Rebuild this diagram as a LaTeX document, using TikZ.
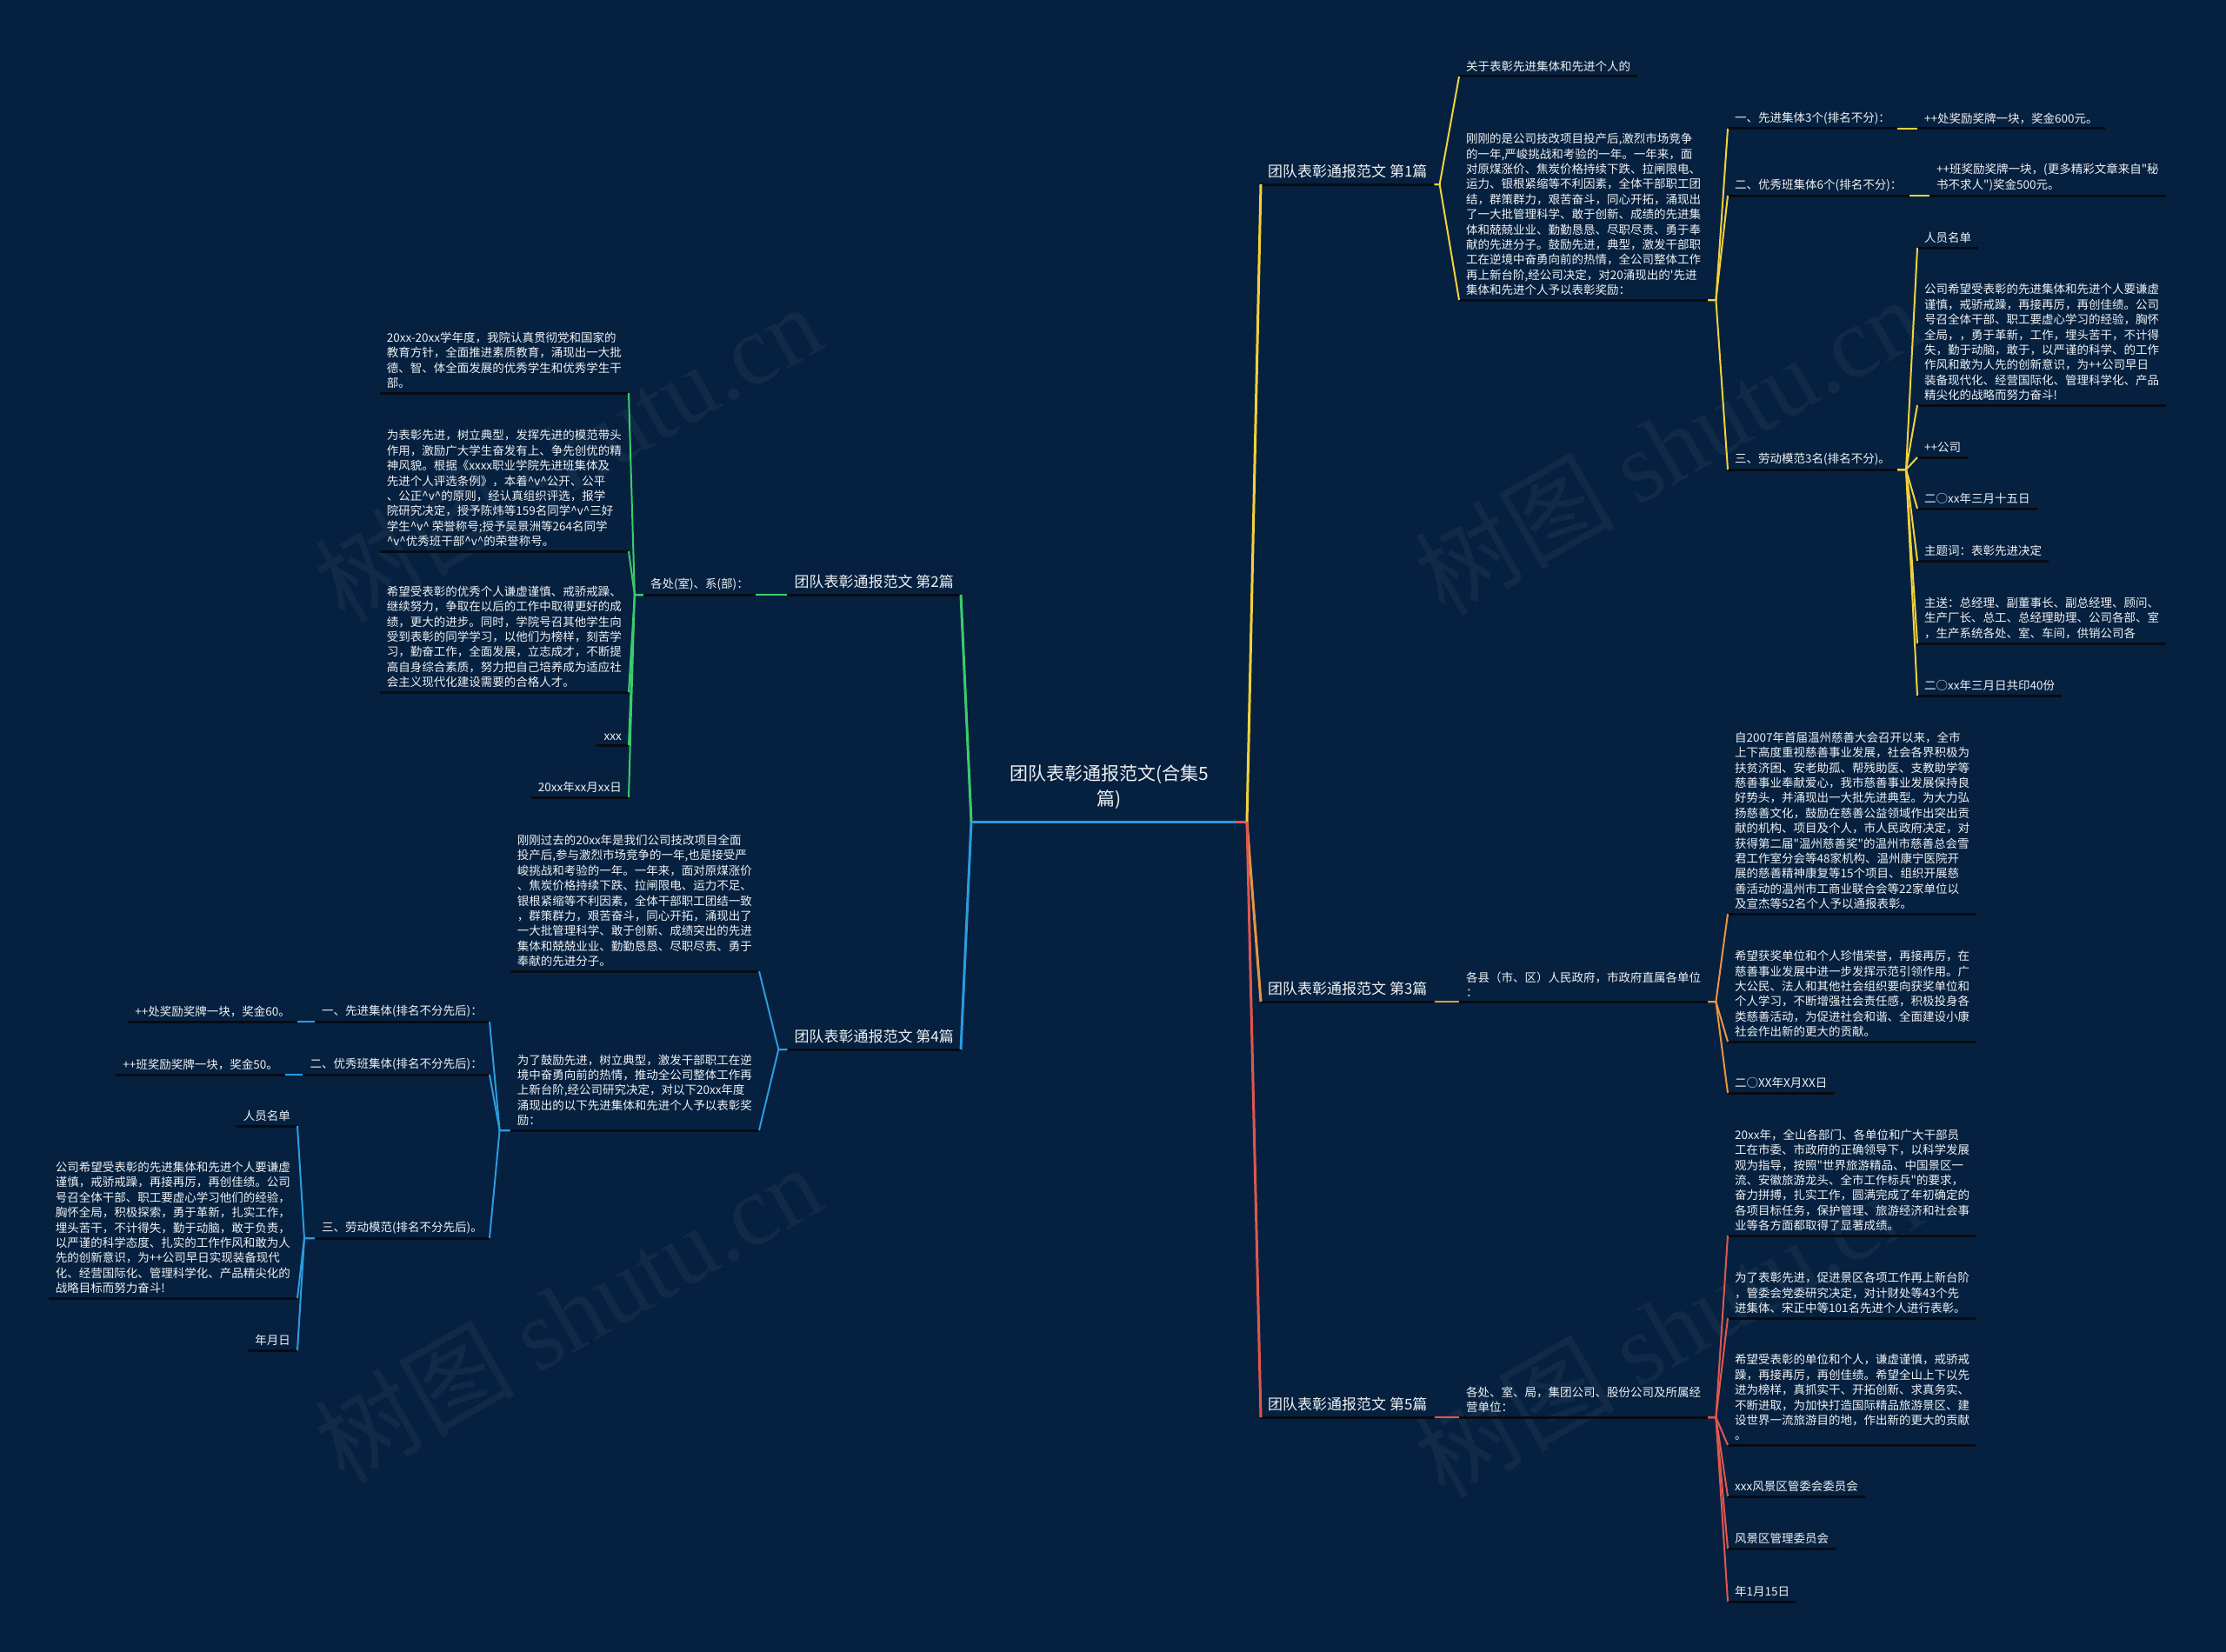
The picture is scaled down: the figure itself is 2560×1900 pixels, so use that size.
\documentclass[tikz,border=0pt]{standalone}
\usepackage{fontspec}
\setmainfont{Noto Sans CJK SC}[Ligatures=TeXOff]
\newfontfamily\wmlatin{Liberation Serif}
\usetikzlibrary{calc}
\definecolor{bgc}{HTML}{06213F}
\definecolor{txtc}{HTML}{EEF1F5}
\definecolor{ulc}{HTML}{060B14}
\definecolor{cyel}{HTML}{F3D13B}
\definecolor{cgrn}{HTML}{3BCB6D}
\definecolor{cblu}{HTML}{2C9BDF}
\definecolor{cora}{HTML}{E9953F}
\definecolor{cred}{HTML}{E0574E}
\newcommand{\myhv}{\textasciicircum v\textasciicircum}
\begin{document}
\begin{tikzpicture}[x=1pt,y=-1pt,
  txt/.style={text=txtc, inner xsep=8pt, inner ysep=5pt, font=\fontsize{13.5}{17.4}\selectfont, align=left},
  rnode/.style={txt, anchor=south west},
  lnode/.style={txt, anchor=south east},
  brnode/.style={text=txtc, inner xsep=8pt, inner ysep=7pt, font=\fontsize{17}{20}\selectfont},
  brR/.style={brnode, anchor=south west},
  brL/.style={brnode, anchor=south east},
  uline/.style={draw=ulc, line width=3pt},
  main/.style={line width=3pt},
  sub/.style={line width=2pt},
  wm/.style={text=white, opacity=0.045, rotate=30, font=\fontsize{115}{115}\selectfont}
]
\fill[bgc] (0,0) rectangle (2560,1900);
\useasboundingbox (0,0) rectangle (2560,1900);

% watermarks
\node[wm] (wm1) at (653,520) {树图 {\wmlatin shutu.cn}};
\node[wm] (wm2) at (1918,512) {树图 {\wmlatin shutu.cn}};
\node[wm] (wm3) at (653,1510) {树图 {\wmlatin shutu.cn}};
\node[wm] (wm4) at (1918,1527) {树图 {\wmlatin shutu.cn}};

% root
\node[text=txtc, font=\fontsize{21}{29}\selectfont, align=center, anchor=south, inner sep=0pt, inner ysep=14pt] (root) at (1275.5,945) {团队表彰通报范文(合集5\\篇)};
\coordinate (rootL) at (1117,945);
\coordinate (rootR) at (1434,945);
\coordinate (rootRr) at (1421,945);

% ===== branch 1 =====
\node[brR] (b1) at (1450,212) {团队表彰通报范文 第1篇};
\node[rnode] (b1a) at (1678,88) {关于表彰先进集体和先进个人的};
\node[rnode] (b1b) at (1678,345) {刚刚的是公司技改项目投产后,激烈市场竞争\\的一年,严峻挑战和考验的一年。一年来，面\\对原煤涨价、焦炭价格持续下跌、拉闸限电、\\运力、银根紧缩等不利因素，全体干部职工团\\结，群策群力，艰苦奋斗，同心开拓，涌现出\\了一大批管理科学、敢于创新、成绩的先进集\\体和兢兢业业、勤勤恳恳、尽职尽责、勇于奉\\献的先进分子。鼓励先进，典型，激发干部职\\工在逆境中奋勇向前的热情，全公司整体工作\\再上新台阶,经公司决定，对20涌现出的'先进\\集体和先进个人予以表彰奖励：};
\node[rnode] (b1c1) at (1987,148) {一、先进集体3个(排名不分)：};
\node[rnode] (b1c1a) at (2205,148) {++处奖励奖牌一块，奖金600元。};
\node[rnode] (b1c2) at (1987,225) {二、优秀班集体6个(排名不分)：};
\node[rnode] (b1c2a) at (2219,225) {++班奖励奖牌一块，(更多精彩文章来自"秘\\书不求人")奖金500元。};
\node[rnode] (b1c3) at (1987,540) {三、劳动模范3名(排名不分)。};
\node[rnode] (b1d1) at (2205,285) {人员名单};
\node[rnode] (b1d2) at (2205,466) {公司希望受表彰的先进集体和先进个人要谦虚\\谨慎，戒骄戒躁，再接再厉，再创佳绩。公司\\号召全体干部、职工要虚心学习的经验，胸怀\\全局，，勇于革新，工作，埋头苦干，不计得\\失，勤于动脑，敢于，以严谨的科学、的工作\\作风和敢为人先的创新意识，为++公司早日\\装备现代化、经营国际化、管理科学化、产品\\精尖化的战略而努力奋斗!};
\node[rnode] (b1d3) at (2205,526) {++公司};
\node[rnode] (b1d4) at (2205,585) {二○xx年三月十五日};
\node[rnode] (b1d5) at (2205,645) {主题词：表彰先进决定};
\node[rnode] (b1d6) at (2205,740) {主送：总经理、副董事长、副总经理、顾问、\\生产厂长、总工、总经理助理、公司各部、室\\，生产系统各处、室、车间，供销公司各};
\node[rnode] (b1d7) at (2205,800) {二○xx年三月日共印40份};

% ===== branch 3 =====
\node[brR] (b3) at (1450,1152) {团队表彰通报范文 第3篇};
\node[rnode] (b3a) at (1678,1152) {各县（市、区）人民政府，市政府直属各单位\\：};
\node[rnode] (b3b1) at (1987,1051) {自2007年首届温州慈善大会召开以来，全市\\上下高度重视慈善事业发展，社会各界积极为\\扶贫济困、安老助孤、帮残助医、支教助学等\\慈善事业奉献爱心，我市慈善事业发展保持良\\好势头，并涌现出一大批先进典型。为大力弘\\扬慈善文化，鼓励在慈善公益领域作出突出贡\\献的机构、项目及个人，市人民政府决定，对\\获得第二届"温州慈善奖"的温州市慈善总会雪\\君工作室分会等48家机构、温州康宁医院开\\展的慈善精神康复等15个项目、组织开展慈\\善活动的温州市工商业联合会等22家单位以\\及宣杰等52名个人予以通报表彰。};
\node[rnode] (b3b2) at (1987,1198) {希望获奖单位和个人珍惜荣誉，再接再厉，在\\慈善事业发展中进一步发挥示范引领作用。广\\大公民、法人和其他社会组织要向获奖单位和\\个人学习，不断增强社会责任感，积极投身各\\类慈善活动，为促进社会和谐、全面建设小康\\社会作出新的更大的贡献。};
\node[rnode] (b3b3) at (1987,1257) {二○XX年X月XX日};

% ===== branch 5 =====
\node[brR] (b5) at (1450,1630) {团队表彰通报范文 第5篇};
\node[rnode] (b5a) at (1678,1630) {各处、室、局，集团公司、股份公司及所属经\\营单位：};
\node[rnode] (b5b1) at (1987,1421) {20xx年，全山各部门、各单位和广大干部员\\工在市委、市政府的正确领导下，以科学发展\\观为指导，按照"世界旅游精品、中国景区一\\流、安徽旅游龙头、全市工作标兵"的要求，\\奋力拼搏，扎实工作，圆满完成了年初确定的\\各项目标任务，保护管理、旅游经济和社会事\\业等各方面都取得了显著成绩。};
\node[rnode] (b5b2) at (1987,1516) {为了表彰先进，促进景区各项工作再上新台阶\\，管委会党委研究决定，对计财处等43个先\\进集体、宋正中等101名先进个人进行表彰。};
\node[rnode] (b5b3) at (1987,1662) {希望受表彰的单位和个人，谦虚谨慎，戒骄戒\\躁，再接再厉，再创佳绩。希望全山上下以先\\进为榜样，真抓实干、开拓创新、求真务实、\\不断进取，为加快打造国际精品旅游景区、建\\设世界一流旅游目的地，作出新的更大的贡献\\。};
\node[rnode] (b5b4) at (1987,1721) {xxx风景区管委会委员会};
\node[rnode] (b5b5) at (1987,1781) {风景区管理委员会};
\node[rnode] (b5b6) at (1987,1842) {年1月15日};

% ===== branch 2 =====
\node[brL] (b2) at (1105,684) {团队表彰通报范文 第2篇};
\node[lnode] (b2a) at (869,684) {各处(室)、系(部)：};
\node[lnode] (b2b1) at (723,452) {20xx-20xx学年度，我院认真贯彻党和国家的\\教育方针，全面推进素质教育，涌现出一大批\\德、智、体全面发展的优秀学生和优秀学生干\\部。};
\node[lnode] (b2b2) at (723,634) {为表彰先进，树立典型，发挥先进的模范带头\\作用，激励广大学生奋发有上、争先创优的精\\神风貌。根据《xxxx职业学院先进班集体及\\先进个人评选条例》，本着\myhv 公开、公平\\、公正\myhv 的原则，经认真组织评选，报学\\院研究决定，授予陈炜等159名同学\myhv 三好\\学生\myhv{} 荣誉称号;授予吴景洲等264名同学\\\myhv 优秀班干部\myhv 的荣誉称号。};
\node[lnode] (b2b3) at (723,796) {希望受表彰的优秀个人谦虚谨慎、戒骄戒躁、\\继续努力，争取在以后的工作中取得更好的成\\绩，更大的进步。同时，学院号召其他学生向\\受到表彰的同学学习，以他们为榜样，刻苦学\\习，勤奋工作，全面发展，立志成才，不断提\\高自身综合素质，努力把自己培养成为适应社\\会主义现代化建设需要的合格人才。};
\node[lnode] (b2b4) at (723,857) {xxx};
\node[lnode] (b2b5) at (723,917) {20xx年xx月xx日};

% ===== branch 4 =====
\node[brL] (b4) at (1105,1207) {团队表彰通报范文 第4篇};
\node[lnode] (b4a) at (873,1117) {刚刚过去的20xx年是我们公司技改项目全面\\投产后,参与激烈市场竞争的一年,也是接受严\\峻挑战和考验的一年。一年来，面对原煤涨价\\、焦炭价格持续下跌、拉闸限电、运力不足、\\银根紧缩等不利因素，全体干部职工团结一致\\，群策群力，艰苦奋斗，同心开拓，涌现出了\\一大批管理科学、敢于创新、成绩突出的先进\\集体和兢兢业业、勤勤恳恳、尽职尽责、勇于\\奉献的先进分子。};
\node[lnode] (b4b) at (873,1300) {为了鼓励先进，树立典型，激发干部职工在逆\\境中奋勇向前的热情，推动全公司整体工作再\\上新台阶,经公司研究决定，对以下20xx年度\\涌现出的以下先进集体和先进个人予以表彰奖\\励：};
\node[lnode] (b4c1) at (563,1175) {一、先进集体(排名不分先后)：};
\node[lnode] (b4c1a) at (342,1175) {++处奖励奖牌一块，奖金60。};
\node[lnode] (b4c2) at (563,1236) {二、优秀班集体(排名不分先后)：};
\node[lnode] (b4c2a) at (328,1236) {++班奖励奖牌一块，奖金50。};
\node[lnode] (b4c3) at (563,1424) {三、劳动模范(排名不分先后)。};
\node[lnode] (b4d1) at (342,1295) {人员名单};
\node[lnode] (b4d2) at (342,1493) {公司希望受表彰的先进集体和先进个人要谦虚\\谨慎，戒骄戒躁，再接再厉，再创佳绩。公司\\号召全体干部、职工要虚心学习他们的经验，\\胸怀全局，积极探索，勇于革新，扎实工作，\\埋头苦干，不计得失，勤于动脑，敢于负责，\\以严谨的科学态度、扎实的工作作风和敢为人\\先的创新意识，为++公司早日实现装备现代\\化、经营国际化、管理科学化、产品精尖化的\\战略目标而努力奋斗!};
\node[lnode] (b4d3) at (342,1553) {年月日};

% underlines
\foreach \n in {b1,b1a,b1b,b1c1,b1c1a,b1c2,b1c2a,b1c3,b1d1,b1d2,b1d3,b1d4,b1d5,b1d6,b1d7,
  b3,b3a,b3b1,b3b2,b3b3,b5,b5a,b5b1,b5b2,b5b3,b5b4,b5b5,b5b6,
  b2,b2a,b2b1,b2b2,b2b3,b2b4,b2b5,b4,b4a,b4b,b4c1,b4c1a,b4c2,b4c2a,b4c3,b4d1,b4d2,b4d3}
  \draw[uline] (\n.south west) -- (\n.south east);

% root underline and main connectors
\draw[main, cblu] (rootL) -- (rootR);
\draw[main, cred] (rootRr) -- (rootR);
\draw[main, cyel] (rootR) -- (b1.south west);
\draw[main, cora] (rootR) -- (b3.south west);
\draw[main, cred] (rootR) -- (b5.south west);
\draw[main, cgrn] (rootL) -- (b2.south east);
\draw[main, cblu] (rootL) -- (b4.south east);

% branch 1 connectors
\foreach \c in {b1a,b1b} \draw[sub, cyel] (b1.south east) -- ++(6,0) -- (\c.south west);
\foreach \c in {b1c1,b1c2,b1c3} \draw[sub, cyel] (b1b.south east) -- ++(9,0) -- (\c.south west);
\draw[sub, cyel] (b1c1.south east) -- (b1c1a.south west);
\draw[sub, cyel] (b1c2.south east) -- (b1c2a.south west);
\foreach \c in {b1d1,b1d2,b1d3,b1d4,b1d5,b1d6,b1d7} \draw[sub, cyel] (b1c3.south east) -- ++(10,0) -- (\c.south west);

% branch 3 connectors
\draw[sub, cora] (b3.south east) -- (b3a.south west);
\foreach \c in {b3b1,b3b2,b3b3} \draw[sub, cora] (b3a.south east) -- ++(9,0) -- (\c.south west);

% branch 5 connectors
\draw[sub, cred] (b5.south east) -- (b5a.south west);
\foreach \c in {b5b1,b5b2,b5b3,b5b4,b5b5,b5b6} \draw[sub, cred] (b5a.south east) -- ++(9,0) -- (\c.south west);

% branch 2 connectors
\draw[sub, cgrn] (b2.south west) -- (b2a.south east);
\foreach \c in {b2b1,b2b2,b2b3,b2b4,b2b5} \draw[sub, cgrn] (b2a.south west) -- ++(-10,0) -- (\c.south east);

% branch 4 connectors
\foreach \c in {b4a,b4b} \draw[sub, cblu] (b4.south west) -- ++(-10,0) -- (\c.south east);
\foreach \c in {b4c1,b4c2,b4c3} \draw[sub, cblu] (b4b.south west) -- ++(-12,0) -- (\c.south east);
\draw[sub, cblu] (b4c1.south west) -- (b4c1a.south east);
\draw[sub, cblu] (b4c2.south west) -- (b4c2a.south east);
\foreach \c in {b4d1,b4d2,b4d3} \draw[sub, cblu] (b4c3.south west) -- ++(-12,0) -- (\c.south east);
\end{tikzpicture}
\end{document}
